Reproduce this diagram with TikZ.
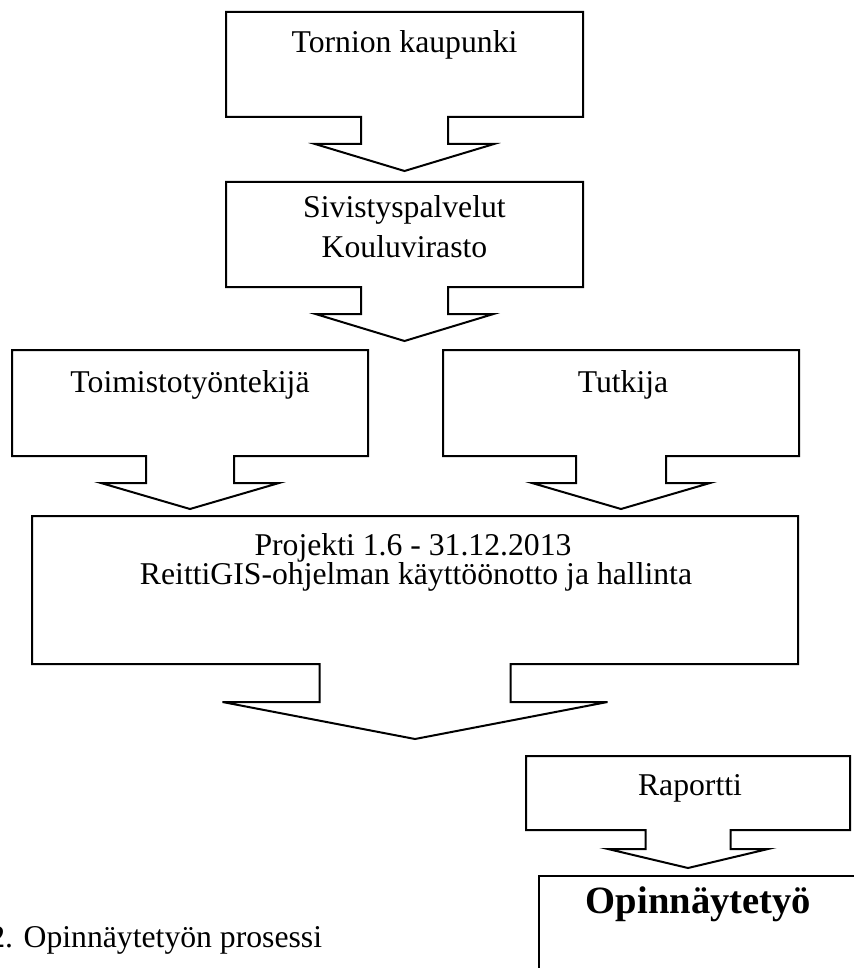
\documentclass[tikz,border=0pt]{standalone}
\usepackage{fontspec}
\setmainfont{Liberation Serif}
\usetikzlibrary{positioning,calc}

\tikzset{
	box/.style={inner sep=0pt, outer sep=0pt},
	txt/.style={anchor=base, inner sep=0pt, font=\fontsize{15.85}{19}\selectfont}
}

% box outline with a down arrow under it
% #1 node, #2 stem half width, #3 head half width, #4 stem length, #5 head length
\newcommand{\callout}[5]{%
	\draw (#1.south west) -- (#1.north west) -- (#1.north east) -- (#1.south east)
	-- ($(#1.south)+(#2,0)$) -- ($(#1.south)+(#2,#4)$) -- ($(#1.south)+(#3,#4)$)
	-- ($(#1.south)+(0,#4+#5)$) -- ($(#1.south)+(-#3,#4)$) -- ($(#1.south)+(-#2,#4)$)
	-- ($(#1.south)+(-#2,0)$) -- cycle;}

\begin{document}
\begin{tikzpicture}[x=0.5pt,y=-0.5pt,line width=1pt]
		
		\useasboundingbox (0,0) rectangle (853,968);
		
		% Boxes
		\node[box,
		minimum width=178.5pt,
		minimum height=52.5pt] (tornio) at (404.5,64.5) {};
		
		\node[box,
		below=32.5pt of tornio,
		minimum width=178.5pt,
		minimum height=52.5pt] (sivistys) {};
		
		\node[box,
		minimum width=178pt,
		minimum height=53pt] (toimisto) at (190,403) {};
		
		\node[box,
		right=37.5pt of toimisto,
		minimum width=178pt,
		minimum height=53pt] (tutkija) {};
		
		\node[box,
		minimum width=383pt,
		minimum height=74pt] (projekti) at (415,590) {};
		
		\node[box,
		minimum width=162pt,
		minimum height=37pt] (raportti) at (688,793) {};
		
		\node[box,draw,
		minimum width=180.5pt,
		minimum height=67pt] (opinnayte) at (719.5,943) {};
		
		% Outlines
		\callout{tornio}{43.5}{89.5}{27}{27}
		\callout{sivistys}{43.5}{89}{27}{27}
		\callout{toimisto}{44}{89}{27}{26}
		\callout{tutkija}{45}{89}{27}{26}
		\callout{projekti}{95.5}{192.5}{38}{37}
		\callout{raportti}{42.5}{80}{19}{19}
		
		% Texts
		\node[txt] (tornioText) at (404.5,53) {Tornion kaupunki};
		\node[txt] (sivistysText) at (404.5,218) {Sivistyspalvelut};
		\node[txt] (virastoText) at (404.5,257) {Kouluvirasto};
		\node[txt] (toimistoText) at (190,392) {Toimistotyöntekijä};
		\node[txt] (tutkijaText) at (623,392) {Tutkija};
		\node[txt] (projektiText) at (413,555) {Projekti 1.6 - 31.12.2013};
		\node[txt] (reittiText) at (416,584) {ReittiGIS-ohjelman käyttöönotto ja hallinta};
		\node[txt] (raporttiText) at (690,795) {Raportti};
		\node[txt,font=\bfseries\fontsize{19.3}{23}\selectfont] (opinnayteText) at (698.5,913) {Opinnäytetyö};
		
		% Caption
		\node[txt,anchor=base west] (caption) at (-11.7,947) {2. Opinnäytetyön prosessi};
		
\end{tikzpicture}
\end{document}
